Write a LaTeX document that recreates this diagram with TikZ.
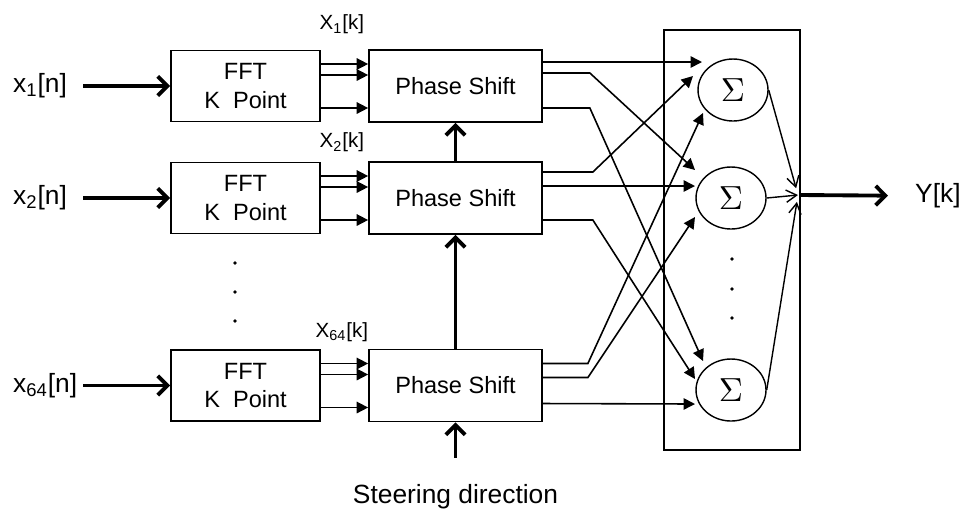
\documentclass[tikz,border=0pt]{standalone}
\usepackage{fontspec}
\setmainfont{Liberation Sans}
\usetikzlibrary{arrows.meta,calc,shapes.geometric,positioning}

\begin{document}
\begin{tikzpicture}[x=0.02cm, y=-0.02cm]
	\tikzset{fftbox/.style={rectangle, draw=black, line width=1pt, minimum width=2.98cm, minimum height=1.42cm, align=center, font=\fontsize{13.4}{16}\selectfont}}
	\tikzset{psbox/.style={rectangle, draw=black, line width=1pt, minimum width=3.46cm, minimum height=1.44cm, font=\fontsize{13.4}{16}\selectfont}}
	\tikzset{sumnode/.style={ellipse, draw=black, line width=0.8pt, minimum width=1.4cm, minimum height=1.24cm, inner sep=0pt}}
	\tikzset{iolab/.style={font=\fontsize{15}{18}\selectfont}}
	\tikzset{xlab/.style={font=\fontsize{11.7}{14}\selectfont}}
	\tikzset{bigarr/.style={-{Straight Barb[length=5.5pt,width=11pt]}, line width=2.2pt}}
	\tikzset{sigarr/.style={-{Triangle[length=6.5pt,width=6.5pt]}, line width=0.9pt}}
	\tikzset{sumarr/.style={-{Straight Barb[length=6pt,width=7pt]}, line width=0.8pt}}

\useasboundingbox (0,0) rectangle (962,512);

	\newcommand{\beamrow}[5]{
\node[fftbox] (fft#1) at (245.5,#2) {FFT\\K\ \ Point};
\node[psbox] (ps#1) at (455.5,#2) {Phase Shift};
\node[iolab, anchor=west] (in#1) at (7,#2) {#3};
\coordinate (src#1) at (83,#2);
\node[xlab] (X#1) at ($(fft#1.north east)+(21,-#5)$) {#4};
\draw[bigarr] (src#1) -- (fft#1);
\draw[sigarr] ($(fft#1.east)+(0,-22)$) -- ($(ps#1.west)+(0,-22)$);
\draw[sigarr] ($(fft#1.east)+(0,-11)$) -- ($(ps#1.west)+(0,-11)$);
\draw[sigarr] ($(fft#1.east)+(0,22)$) -- ($(ps#1.west)+(0,22)$);
	}

\beamrow{1}{86}{x\textsubscript{1}[n]}{X\textsubscript{1}[k]}{25}
\beamrow{2}{198}{x\textsubscript{2}[n]}{X\textsubscript{2}[k]}{19}
\beamrow{3}{385.5}{x\textsubscript{64}[n]}{X\textsubscript{64}[k]}{17}

\foreach \y in {263,292,321} \fill (235,\y) circle (1.1pt);

% steering
\node[iolab] (steer) at (455.5,497) {Steering direction};
\draw[bigarr, shorten <=0.42cm] (steer) -- (ps3);
\draw[bigarr] (ps3) -- (ps2);
\draw[bigarr] (ps2) -- (ps1);

% summation
\node[draw=black, line width=1pt, minimum width=2.72cm, minimum height=8.4cm] (sumbox) at (732,240) {};
\node[sumnode] (s1) at (733,90) {\scalebox{1.9}{$\Sigma$}};
\node[sumnode] (s2) at (731,198) {\scalebox{1.9}{$\Sigma$}};
\node[sumnode] (s3) at (731,390) {\scalebox{1.9}{$\Sigma$}};
\foreach \y in {259,289,318} \fill (732,\y) circle (1.1pt);

\draw[sigarr] ($(ps1.east)+(0,-24)$) -- ($(s1)+(-31,-28)$);
\draw[sigarr] ($(ps1.east)+(0,-13)$) -- ++(47,0) -- ($(s2)+(-36,-28)$);
\draw[sigarr] ($(ps1.east)+(0,22)$) -- ++(47,0) -- ($(s3)+(-28,-29)$);

\draw[sigarr] ($(ps2.east)+(0,-26)$) -- ++(50,0) -- ($(s1)+(-40,-14)$);
\draw[sigarr] ($(ps2.east)+(0,-12)$) -- ($(s2)+(-36,-12)$);
\draw[sigarr] ($(ps2.east)+(0,22)$) -- ++(50,0) -- ($(s3)+(-36,-11)$);

\draw[sigarr] ($(ps3.east)+(0,-22)$) -- ++(45,0) -- ($(s1)+(-30,23)$);
\draw[sigarr] ($(ps3.east)+(0,-8)$) -- ++(45,0) -- ($(s2)+(-36,19)$);
\draw[sigarr] ($(ps3.east)+(0,18)$) -- ($(s3)+(-36,14)$);

\coordinate (jn) at (798,195);
\draw[sumarr, shorten >=4pt] (s1.east) -- (jn);
\draw[sumarr] (s2.east) -- (jn);
\draw[sumarr, shorten >=4pt] (s3.east) -- (jn);

\node[iolab, anchor=west] (yk) at (909,196) {Y[k]};
\draw[bigarr, shorten >=0.42cm] (jn -| sumbox.east) -- (yk);
\end{tikzpicture}
\end{document}
